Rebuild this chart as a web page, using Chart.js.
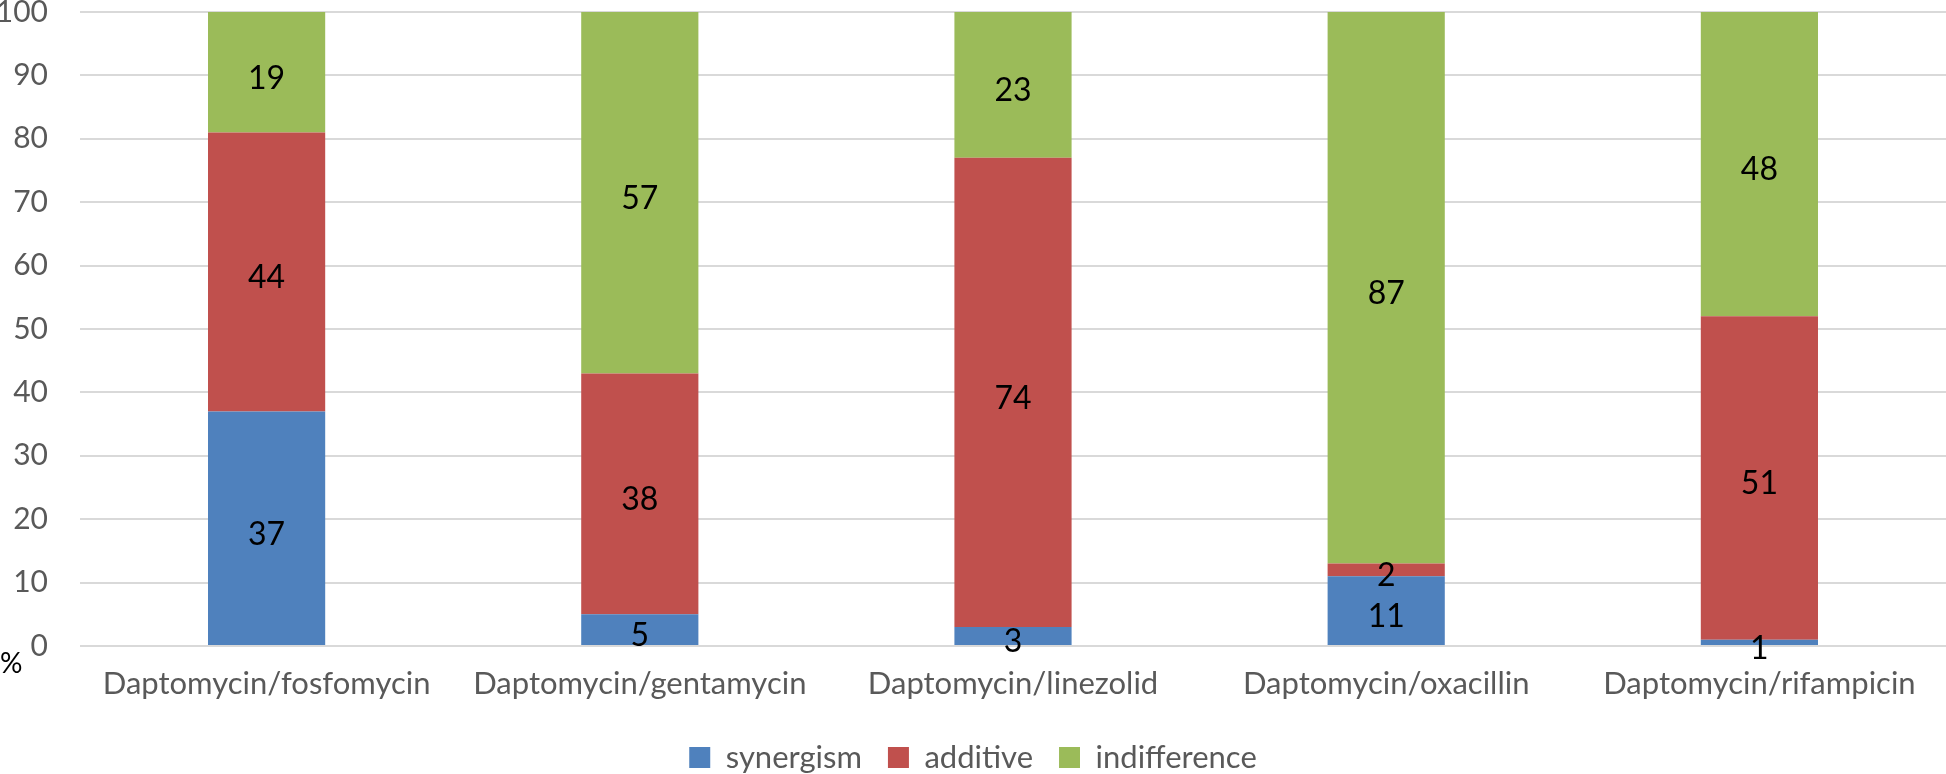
<!DOCTYPE html>
<html>
<head>
<meta charset="utf-8">
<script src="https://cdn.jsdelivr.net/npm/chart.js@4.4.1/dist/chart.umd.min.js"></script>
<style>
  html, body { margin: 0; padding: 0; background: #fff; }
  #wrap { width: 1946px; height: 774px; }
</style>
</head>
<body>
<div id="wrap"><canvas id="myChart"></canvas></div>
<script>
// data
var combos = ["Daptomycin/fosfomycin", "Daptomycin/gentamycin", "Daptomycin/linezolid", "Daptomycin/oxacillin", "Daptomycin/rifampicin"];
var synergism = [37, 5, 3, 11, 1];
var additive = [44, 38, 74, 2, 51];
var indifference = [19, 57, 23, 87, 48];
var yTicks = [0, 10, 20, 30, 40, 50, 60, 70, 80, 90, 100];

var FONT = "Lato, 'Open Sans', sans-serif";

// draws the value in the middle of each segment (excel puts them a bit low)
var valueLabels = {
  id: "valueLabels",
  afterDatasetsDraw: function (chart) {
    var ctx = chart.ctx;
    ctx.save();
    ctx.font = "32px " + FONT;
    ctx.fillStyle = "#000";
    ctx.textAlign = "center";
    ctx.textBaseline = "middle";
    chart.data.datasets.forEach(function (ds, i) {
      chart.getDatasetMeta(i).data.forEach(function (bar, j) {
        var c = bar.getCenterPoint();
        ctx.fillText(ds.data[j], c.x, c.y + 6);
      });
    });
    ctx.restore();
  }
};

// the "%" unit sits under the y axis, left of 0
var unitLabel = {
  id: "unitLabel",
  afterDraw: function (chart) {
    var ctx = chart.ctx;
    var y0 = chart.scales.y.getPixelForValue(0);
    ctx.save();
    ctx.font = "28px " + FONT;
    ctx.fillStyle = "#000";
    ctx.textAlign = "left";
    ctx.textBaseline = "middle";
    ctx.fillText("%", 0, y0 + 18);
    ctx.restore();
  }
};

var ctx = document.getElementById("myChart").getContext("2d");
var myChart = new Chart(ctx, {
  type: "bar",
  data: {
    labels: combos,
    datasets: [
      { label: "synergism", data: synergism, backgroundColor: "#4F81BD" },
      { label: "additive", data: additive, backgroundColor: "#C0504D" },
      { label: "indifference", data: indifference, backgroundColor: "#9BBB59" }
    ]
  },
  options: {
    responsive: true,
    maintainAspectRatio: false,
    animation: false,
    layout: { padding: { top: 0, right: 0, left: 0, bottom: -9 } },
    datasets: { bar: { categoryPercentage: 1, barPercentage: 0.314 } },
    scales: {
      x: {
        stacked: true,
        grid: { display: false, drawTicks: false },
        border: { display: false },
        ticks: { color: "#595959", font: { size: 31, family: FONT }, padding: 19, maxRotation: 0 },
        afterFit: function (axis) { axis.height = 70; }
      },
      y: {
        stacked: true,
        min: 0,
        max: 100,
        afterBuildTicks: function (axis) {
          axis.ticks = yTicks.map(function (v) { return { value: v }; });
        },
        afterFit: function (axis) {
          axis.width = 80;
          axis.paddingTop = 12;
          axis.paddingBottom = 0;
        },
        grid: { color: "#D9D9D9", lineWidth: 2, drawTicks: false },
        border: { display: false },
        ticks: { color: "#595959", font: { size: 30, family: FONT }, padding: 32 }
      }
    },
    plugins: {
      legend: {
        position: "bottom",
        labels: {
          boxWidth: 21,
          boxHeight: 21,
          padding: 26,
          color: "#595959",
          font: { size: 31, family: FONT }
        }
      },
      tooltip: { enabled: false }
    }
  },
  plugins: [valueLabels, unitLabel]
});
</script>
</body>
</html>
